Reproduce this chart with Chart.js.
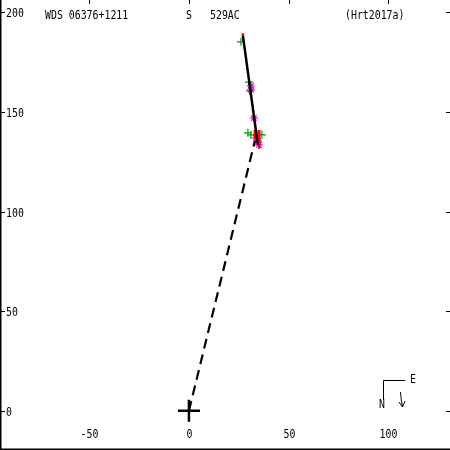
<!DOCTYPE html>
<html><head><meta charset="utf-8">
<script src="https://cdn.jsdelivr.net/npm/chart.js@4.4.1/dist/chart.umd.min.js"></script>
<style>html,body{margin:0;padding:0;background:#fff}#wrap{width:450px;height:450px}</style>
</head><body><div id="wrap"><canvas id="c" width="450" height="450"></canvas></div>
<script>
const titleLeft = "WDS 06376+1211";
const titleMid1 = "S";
const titleMid2 = "529AC";
const titleRight = "(Hrt2017a)";
const xTicks = [-50, 0, 50, 100];
const yTicks = [0, 50, 100, 150, 200];
const xRange = [-94.8, 131.0];
const yRange = [-19.7, 206.2];
const fitLine = [{x:27.1,y:188.2},{x:34.6,y:133.5}];
const dashLine = [{x:0,y:0},{x:33.1,y:135.5}];
const greenPts = [{x:26.1,y:185.2},{x:30.1,y:165},{x:30.6,y:160.6},{x:29.6,y:139.5},{x:31.1,y:138.5},{x:36.6,y:138.5}];
const magentaPts = [{x:31.1,y:163.1},{x:31.1,y:161.1},{x:32.6,y:147},{x:33.6,y:137},{x:34.6,y:135.5},{x:35.1,y:133.5}];
const redSegs = [
  [{x:27.1,y:189.5},{x:27.1,y:188}],
  [{x:33.1,y:141},{x:33.1,y:136.5}],
  [{x:33.8,y:141},{x:33.8,y:136}],
  [{x:35.3,y:141},{x:35.3,y:131.5}]
];
const originPt = [{x:0,y:0}];

const FONT = "DejaVu Sans Mono";
function txt(ctx, s, x, y, align){
  ctx.save();
  ctx.translate(x, y);
  ctx.scale(0.79, 1);
  ctx.textAlign = align || 'left';
  ctx.fillText(s, 0, 0);
  ctx.restore();
}

const framePlugin = {
  id: 'frame',
  afterDatasetsDraw(chart){
    const ctx = chart.ctx;
    const xs = chart.scales.x, ys = chart.scales.y;
    const W = chart.width, H = chart.height;
    ctx.save();
    ctx.strokeStyle = '#000';
    ctx.fillStyle = '#000';
    ctx.lineWidth = 1.5;
    ctx.beginPath();
    ctx.moveTo(0.75, 0); ctx.lineTo(0.75, H - 0.75); ctx.lineTo(W, H - 0.75);
    ctx.stroke();
    ctx.lineWidth = 1;
    ctx.font = "12.5px '" + FONT + "'";
    ctx.textBaseline = 'middle';
    yTicks.forEach(v => {
      const py = Math.round(ys.getPixelForValue(v)) + 0.5;
      ctx.beginPath(); ctx.moveTo(0, py); ctx.lineTo(5, py); ctx.stroke();
      ctx.beginPath(); ctx.moveTo(W - 4, py); ctx.lineTo(W, py); ctx.stroke();
      txt(ctx, String(v), 6, py + 1, 'left');
    });
    xTicks.forEach(v => {
      const px = Math.round(xs.getPixelForValue(v)) + 0.5;
      ctx.beginPath(); ctx.moveTo(px, 0); ctx.lineTo(px, 4); ctx.stroke();
      txt(ctx, String(v), px, 435, 'center');
    });
    txt(ctx, titleLeft, 45, 16, 'left');
    txt(ctx, titleMid1, 186, 16, 'left');
    txt(ctx, titleMid2, 210, 16, 'left');
    txt(ctx, titleRight, 345, 16, 'left');
    ctx.beginPath();
    ctx.moveTo(383.5, 400); ctx.lineTo(383.5, 380.5); ctx.lineTo(405, 380.5);
    ctx.stroke();
    txt(ctx, "E", 410, 380, 'left');
    txt(ctx, "N", 379, 405, 'left');
    ctx.beginPath();
    ctx.moveTo(400.5, 392); ctx.quadraticCurveTo(401, 400, 402.5, 407);
    ctx.moveTo(399, 402); ctx.lineTo(402.5, 407); ctx.lineTo(405, 401);
    ctx.stroke();
    ctx.restore();
  }
};

const datasets = [
  {data: dashLine, showLine: true, borderColor: '#000', borderWidth: 2.2, borderDash: [10,6], pointRadius: 0},
  {data: fitLine, showLine: true, borderColor: '#000', borderWidth: 2.5, pointRadius: 0},
];
redSegs.forEach(s => datasets.push({data: s, showLine: true, borderColor: '#ff0000', borderWidth: 2.5, pointRadius: 0}));
datasets.push({data: greenPts, showLine: false, pointStyle: 'cross', pointRadius: 4, borderColor: '#00a000', borderWidth: 1.2, backgroundColor: '#00a000'});
datasets.push({data: magentaPts, showLine: false, pointStyle: 'star', pointRadius: 4, borderColor: '#ff00ff', borderWidth: 1.2, backgroundColor: '#ff00ff'});
datasets.push({data: originPt, showLine: false, pointStyle: 'cross', pointRadius: 11, borderColor: '#000', borderWidth: 2.5});

new Chart(document.getElementById('c'), {
  type: 'scatter',
  data: {datasets},
  options: {
    responsive: false,
    animation: false,
    layout: {padding: 0, autoPadding: false},
    plugins: {legend: {display: false}, tooltip: {enabled: false}, title: {display: false}},
    scales: {
      x: {type: 'linear', min: xRange[0], max: xRange[1], display: false},
      y: {type: 'linear', min: yRange[0], max: yRange[1], display: false}
    }
  },
  plugins: [framePlugin]
});
</script></body></html>
